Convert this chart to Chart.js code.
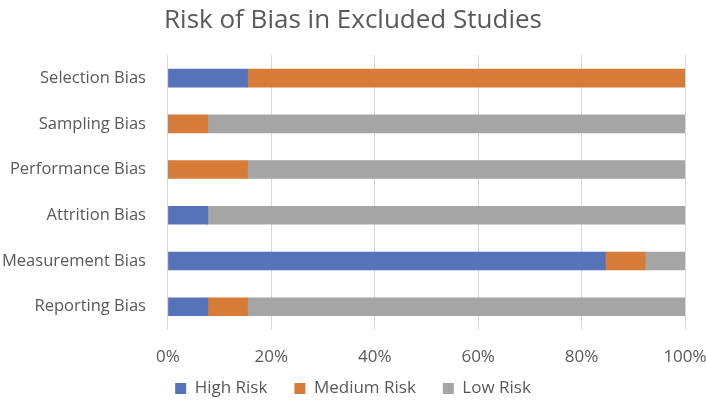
<!DOCTYPE html>
<html>
<head>
<meta charset="utf-8">
<script src="https://cdn.jsdelivr.net/npm/chart.js@4"></script>
<style>
  html, body { margin: 0; padding: 0; background: #fff; }
  #wrap { width: 706px; height: 402px; }
</style>
</head>
<body>
<div id="wrap"><canvas id="myChart"></canvas></div>
<script>
var categories = ["Selection Bias", "Sampling Bias", "Performance Bias", "Attrition Bias", "Measurement Bias", "Reporting Bias"];
var highRisk = [15.4, 0, 0, 7.7, 84.6, 7.7];
var mediumRisk = [84.6, 7.7, 15.4, 0, 7.7, 7.7];
var lowRisk = [0, 92.3, 84.6, 92.3, 7.7, 84.6];
var xTicks = [0, 20, 40, 60, 80, 100];

var font = "'Open Sans', sans-serif";

// pull the legend row up so its wide item spacing doesn't push it down
var legendLift = {
  id: "legendLift",
  afterLayout: chart => {
    if (chart.legend) {
      chart.legend.top -= 31;
      chart.legend.bottom -= 31;
    }
  }
};

createChart = () => {
  var ctx = document.getElementById("myChart");
  new Chart(ctx, {
    type: "bar",
    data: {
      labels: categories,
      datasets: [
        { data: highRisk, label: "High Risk", backgroundColor: "#5672b8", barThickness: 18 },
        { data: mediumRisk, label: "Medium Risk", backgroundColor: "#d77b39", barThickness: 18 },
        { data: lowRisk, label: "Low Risk", backgroundColor: "#a5a5a5", barThickness: 18 }
      ]
    },
    options: {
      indexAxis: "y",
      responsive: true,
      maintainAspectRatio: false,
      animation: false,
      layout: { padding: { left: 0, right: 0, top: 0, bottom: -36 } },
      scales: {
        x: {
          stacked: true,
          min: 0,
          max: 100,
          afterBuildTicks: axis => { axis.ticks = xTicks.map(v => ({ value: v })); },
          afterFit: axis => { axis.paddingLeft = 0; axis.paddingRight = 21; },
          ticks: {
            callback: v => v + "%",
            color: "#595959",
            font: { family: font, size: 17 },
            padding: 17
          },
          grid: { color: "#d9d9d9", drawTicks: false, lineWidth: 1 },
          border: { display: false }
        },
        y: {
          stacked: true,
          afterFit: axis => { axis.paddingTop = 0; axis.paddingBottom = 0; axis.width -= 20; },
          ticks: {
            color: "#595959",
            font: { family: font, size: 16.5 },
            padding: 22
          },
          grid: { display: false, drawTicks: false },
          border: { display: false }
        }
      },
      plugins: {
        title: {
          display: true,
          text: "Risk of Bias in Excluded Studies",
          color: "#595959",
          font: { family: font, size: 26, weight: "normal" },
          padding: { top: 5, bottom: 19 }
        },
        legend: {
          position: "bottom",
          labels: {
            color: "#595959",
            font: { family: font, size: 17 },
            boxWidth: 11,
            boxHeight: 11,
            padding: 27
          }
        },
        tooltip: { enabled: false }
      }
    },
    plugins: [legendLift]
  });
};

createChart();
</script>
</body>
</html>
